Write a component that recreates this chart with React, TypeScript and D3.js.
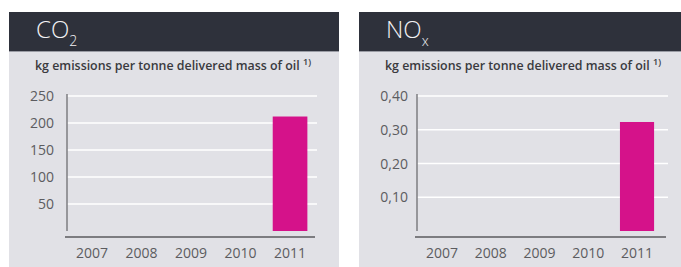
import React, { useEffect, useRef } from 'react';
import * as d3 from 'd3';

const years = ['2007', '2008', '2009', '2010', '2011'];
const co2Values = [null, null, null, null, 212];
const co2Ticks = [50, 100, 150, 200, 250];
const noxValues = [null, null, null, null, 0.323];
const noxTicks = [0.1, 0.2, 0.3, 0.4];

const subtitle = 'kg emissions per tonne delivered mass of oil';

export default function App() {
  const ref = useRef<SVGSVGElement>(null);

  useEffect(() => {
    const svg = d3.select(ref.current);
    svg.selectAll('*').remove();

    // one panel per pollutant
    const drawPanel = (opts: any) => {
      const g = svg.append('g').attr('transform', 'translate(' + opts.left + ',0)');
      const w = opts.width;

      g.append('rect').attr('x', 0).attr('y', 12).attr('width', w).attr('height', 255).attr('fill', '#e1e1e6');
      g.append('rect').attr('x', 0).attr('y', 12).attr('width', w).attr('height', 39).attr('fill', '#2e313b');
      g.append('rect').attr('x', 0).attr('y', 51).attr('width', w).attr('height', 1).attr('fill', '#9a9ca4');

      const title = g.append('text')
        .attr('x', 27).attr('y', 38)
        .attr('fill', '#f2f2f4')
        .style('font-family', 'Open Sans')
        .style('font-weight', 300)
        .style('font-size', '24px');
      title.append('tspan').text(opts.title);
      title.append('tspan').attr('dy', 8).style('font-size', '14px').text(opts.sub);

      const st = g.append('text')
        .attr('x', 26).attr('y', 70)
        .attr('fill', '#3a3a3e')
        .style('font-family', 'Open Sans')
        .style('font-weight', 600)
        .style('font-size', '12.4px');
      st.append('tspan').text(subtitle + ' ');
      st.append('tspan').attr('dy', -5).style('font-size', '9px').text('1)');

      const x0 = opts.axisX, x1 = opts.axisEnd;
      const x = d3.scaleBand().domain(years).range(opts.band).paddingInner(0.3).paddingOuter(0.15);
      const y = d3.scaleLinear().domain([0, opts.max]).range([231, 96]);

      // gridlines
      g.selectAll('line.grid').data(opts.ticks).enter().append('line')
        .attr('class', 'grid')
        .attr('x1', x0).attr('x2', x1)
        .attr('y1', (d: number) => y(d)).attr('y2', (d: number) => y(d))
        .attr('stroke', '#ffffff').attr('stroke-width', 1.5);

      g.selectAll('text.ytick').data(opts.ticks).enter().append('text')
        .attr('class', 'ytick')
        .attr('x', x0 - opts.labelGap).attr('y', (d: number) => y(d) + 5)
        .attr('text-anchor', 'end')
        .attr('fill', '#5c5c60')
        .style('font-family', 'Open Sans')
        .style('font-size', '14px')
        .text((d: number) => opts.fmt(d));

      // bars
      g.selectAll('rect.bar').data(opts.values.map((v: any, i: number) => ({ v, year: years[i] })).filter((d: any) => d.v != null))
        .enter().append('rect')
        .attr('class', 'bar')
        .attr('x', (d: any) => x(d.year))
        .attr('width', x.bandwidth())
        .attr('y', (d: any) => y(d.v))
        .attr('height', (d: any) => y(0) - y(d.v))
        .attr('fill', '#d5128a');

      // axes
      g.append('line').attr('x1', x0).attr('x2', x0).attr('y1', 94).attr('y2', 231)
        .attr('stroke', '#7c7c80').attr('stroke-width', 1.5);
      g.append('line').attr('x1', x0 - 2).attr('x2', x1 - 2).attr('y1', 237).attr('y2', 237)
        .attr('stroke', '#7c7c80').attr('stroke-width', 2);

      g.selectAll('text.xtick').data(years).enter().append('text')
        .attr('class', 'xtick')
        .attr('x', (d: string) => (x(d) as number) + x.bandwidth() / 2)
        .attr('y', 258)
        .attr('text-anchor', 'middle')
        .attr('fill', '#5c5c60')
        .style('font-family', 'Open Sans')
        .style('font-size', '14px')
        .text((d: string) => d);
    };

    drawPanel({
      left: 9, width: 330, title: 'CO', sub: '2', axisX: 58, axisEnd: 308, band: [58.3, 305.8], labelGap: 13,
      max: 250, ticks: co2Ticks, values: co2Values, fmt: (d: number) => String(d),
    });
    drawPanel({
      left: 359, width: 322, title: 'NO', sub: 'x', axisX: 58, axisEnd: 309, band: [58.6, 302.4], labelGap: 9,
      max: 0.4, ticks: noxTicks, values: noxValues, fmt: (d: number) => d3.format('.2f')(d).replace('.', ','),
    });
  }, []);

  return (
    <svg ref={ref} width={681} height={267} style={{ position: 'absolute', left: 0, top: 0, background: '#fff' }} />
  );
}
